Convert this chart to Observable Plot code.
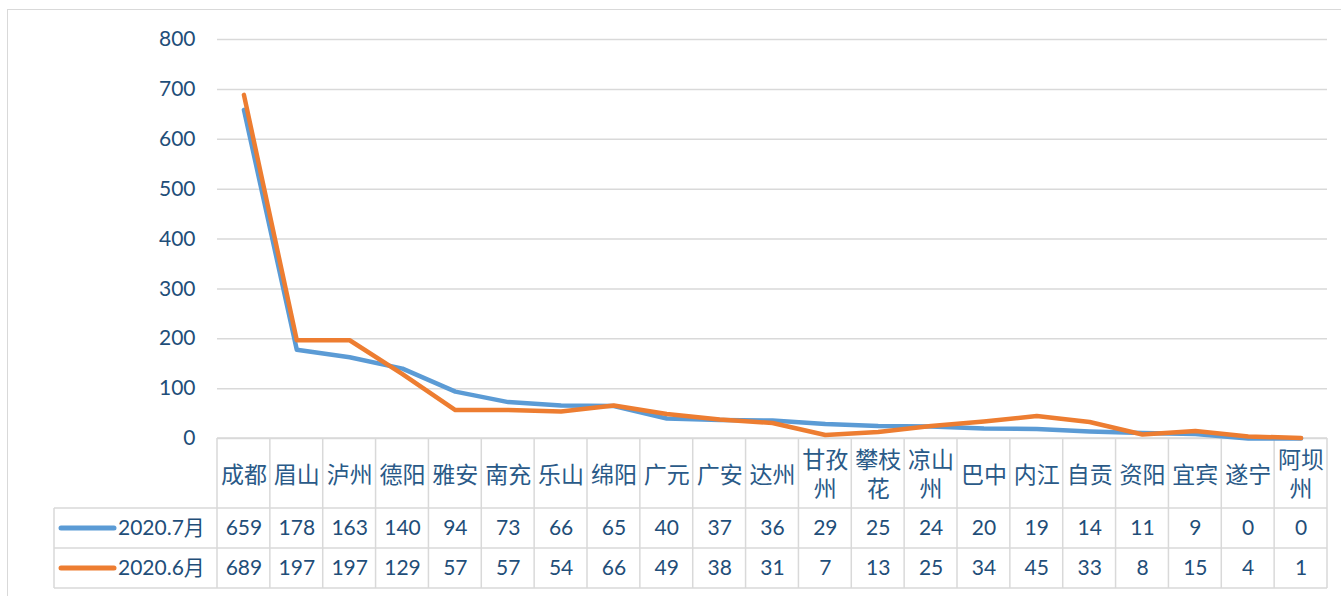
<!DOCTYPE html>
<html><head><meta charset="utf-8">
<script src="https://cdn.jsdelivr.net/npm/d3@7"></script>
<script src="https://cdn.jsdelivr.net/npm/@observablehq/plot@0.6"></script>
<style>
body{margin:0;background:#fff;overflow:hidden;width:1341px;height:596px}
#frame{position:absolute;left:7px;top:9px;width:1400px;height:700px;border:1.5px solid #d9d9d9;box-sizing:border-box}
#chart{position:absolute;left:0;top:0}
</style></head><body>
<div id="frame"></div><div id="chart"></div>
<script>
const cities = ["成都","眉山","泸州","德阳","雅安","南充","乐山","绵阳","广元","广安","达州","甘孜州","攀枝花","凉山州","巴中","内江","自贡","资阳","宜宾","遂宁","阿坝州"];
const jul = [659,178,163,140,94,73,66,65,40,37,36,29,25,24,20,19,14,11,9,0,0];
const jun = [689,197,197,129,57,57,54,66,49,38,31,7,13,25,34,45,33,8,15,4,1];
const seriesNames = ["2020.7月","2020.6月"];
const seriesColors = ["#5B9BD5","#ED7D31"];
const yTicks = [0,100,200,300,400,500,600,700,800];

const seriesValues = [jul, jun];
const rows = seriesNames.flatMap((s, k) => cities.map((c, i) => ({city: c, series: s, v: seriesValues[k][i]})));
const labelOf = c => c.length > 2 ? c.slice(0, 2) + "\n" + c.slice(2) : c;

const W = 1341, H = 596, ML = 217, MR = 14, MT = 39, MB = 158;
const textColor = "#1F4E79";
const font = "Lato, 'Noto Sans CJK SC', sans-serif";

const plot = Plot.plot({
  width: W, height: H,
  marginLeft: ML, marginRight: MR, marginTop: MT, marginBottom: MB,
  style: {fontFamily: font, background: "transparent", overflow: "visible"},
  x: {type: "point", domain: cities, padding: 0.5, round: false, axis: null},
  y: {domain: [0, 800], ticks: yTicks},
  color: {domain: seriesNames, range: seriesColors},
  marks: [
    Plot.gridY(yTicks, {stroke: "#d9d9d9", strokeOpacity: 1, strokeWidth: 1.5}),
    Plot.axisY(yTicks, {tickSize: 0, tickPadding: 22, fontSize: 21, fill: textColor, label: null}),
    Plot.line(rows, {x: "city", y: "v", z: "series", stroke: "series", strokeWidth: 4.5, strokeLinecap: "round", strokeLinejoin: "round"}),
    Plot.text(cities, {x: d => d, text: labelOf, frameAnchor: "bottom", dy: 35, fontSize: 23, lineHeight: 1.25, fill: "#2A5A88", lineAnchor: "middle", fontFamily: "'Noto Sans CJK SC', sans-serif"}),
    Plot.text(rows.filter(d => d.series === seriesNames[0]), {x: "city", text: d => String(d.v), frameAnchor: "bottom", dy: 90, fontSize: 21, fill: textColor, lineAnchor: "middle"}),
    Plot.text(rows.filter(d => d.series === seriesNames[1]), {x: "city", text: d => String(d.v), frameAnchor: "bottom", dy: 130, fontSize: 21, fill: textColor, lineAnchor: "middle"})
  ]
});

// table grid and legend, positioned from the plot's own x scale
const xs = plot.scale("x");
const step = xs.apply(cities[1]) - xs.apply(cities[0]);
const left = xs.apply(cities[0]) - step / 2;
const right = xs.apply(cities[cities.length - 1]) + step / 2;
const y0 = H - MB;           // table top (value 0 line)
const rowTops = [y0, y0 + 70, y0 + 110, y0 + 150];
const legendLeft = 54;
const svg = d3.select(plot);
const g = svg.insert("g", ":first-child").attr("stroke", "#d9d9d9").attr("stroke-width", 1.5);
g.append("line").attr("x1", left).attr("x2", right).attr("y1", rowTops[0]).attr("y2", rowTops[0]);
rowTops.slice(1).forEach(y => g.append("line").attr("x1", legendLeft).attr("x2", right).attr("y1", y).attr("y2", y));
for (let i = 0; i <= cities.length; i++) {
  const x = left + i * step;
  g.append("line").attr("x1", x).attr("x2", x).attr("y1", rowTops[0]).attr("y2", rowTops[3]);
}
g.append("line").attr("x1", legendLeft).attr("x2", legendLeft).attr("y1", rowTops[1]).attr("y2", rowTops[3]);

const lg = svg.append("g").attr("text-anchor", "start");
seriesNames.forEach((s, k) => {
  const cy = (rowTops[k + 1] + rowTops[k + 2]) / 2;
  lg.append("line").attr("x1", 61).attr("x2", 114).attr("y1", cy).attr("y2", cy)
    .attr("stroke", seriesColors[k]).attr("stroke-width", 5).attr("stroke-linecap", "round");
  lg.append("text").attr("x", 118).attr("y", cy).attr("dy", "0.35em").attr("text-anchor", "start")
    .attr("font-size", 21).attr("fill", textColor).attr("font-family", font).text(s);
});

document.getElementById("chart").appendChild(plot);
</script>
</body></html>
